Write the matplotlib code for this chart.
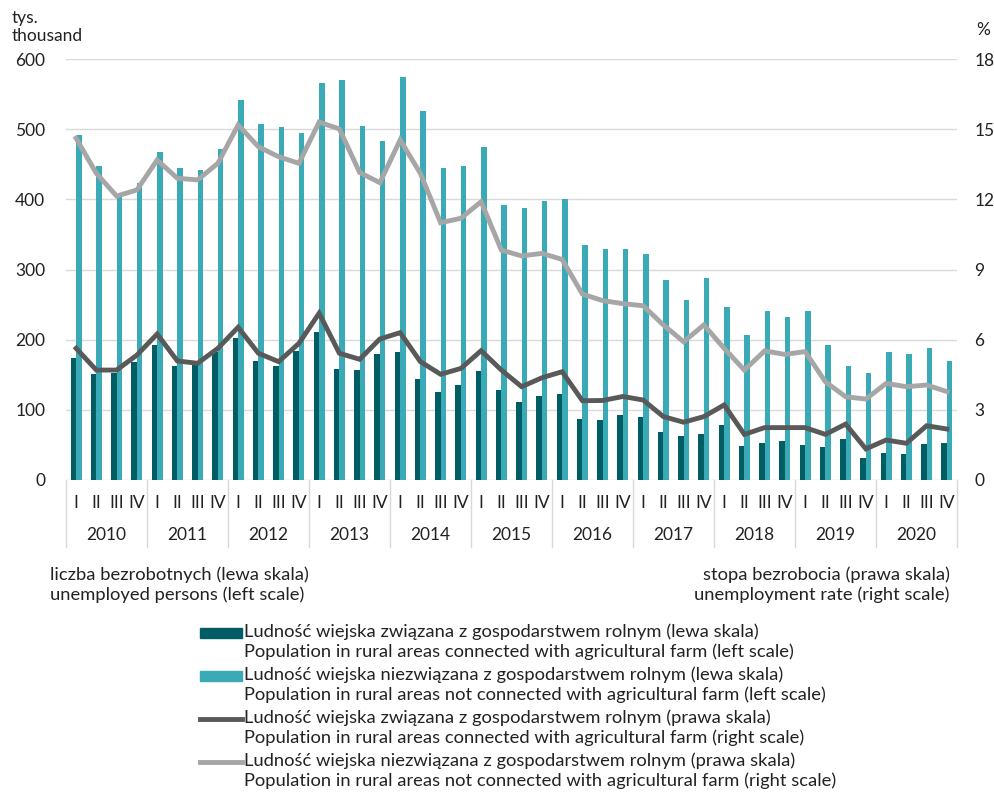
#!/usr/bin/env python3

import numpy as np
import matplotlib
matplotlib.use('Agg')
import matplotlib.pyplot as plt
from matplotlib.patches import Rectangle
from matplotlib.lines import Line2D

# years and quarters on the category axis
years = ['2010', '2011', '2012', '2013', '2014', '2015',
         '2016', '2017', '2018', '2019', '2020']
quarters = ['I', 'II', 'III', 'IV']

# unemployed, connected with agricultural farm (thousand, left scale)
farm_persons = [174, 151, 152, 168,
                193, 162, 164, 182,
                203, 170, 162, 184,
                211, 158, 157, 179,
                183, 144, 125, 135,
                155, 128, 111, 120,
                122, 87, 86, 92,
                90, 68, 63, 66,
                78, 49, 53, 55,
                50, 47, 58, 31,
                39, 37, 52, 53]

# unemployed, not connected with agricultural farm (thousand, left scale)
nonfarm_persons = [492, 447, 408, 423,
                   467, 445, 442, 472,
                   541, 508, 503, 494,
                   566, 570, 505, 483,
                   574, 526, 444, 447,
                   475, 392, 387, 397,
                   400, 335, 329, 329,
                   322, 285, 257, 288,
                   247, 207, 241, 232,
                   241, 192, 163, 152,
                   182, 180, 188, 170]

# unemployment rate, connected with agricultural farm (%, right scale)
farm_rate = [5.63, 4.70, 4.70, 5.34,
             6.24, 5.09, 4.99, 5.63,
             6.53, 5.42, 5.06, 5.84,
             7.13, 5.42, 5.16, 6.03,
             6.30, 5.06, 4.52, 4.77,
             5.53, 4.70, 3.99, 4.37,
             4.63, 3.39, 3.40, 3.57,
             3.42, 2.71, 2.47, 2.71,
             3.21, 1.95, 2.24, 2.24,
             2.24, 1.95, 2.39, 1.33,
             1.71, 1.57, 2.32, 2.18]

# unemployment rate, not connected with agricultural farm (%, right scale)
nonfarm_rate = [14.61, 13.11, 12.14, 12.40,
                13.68, 12.90, 12.83, 13.54,
                15.18, 14.25, 13.82, 13.54,
                15.30, 15.01, 13.15, 12.71,
                14.54, 13.11, 11.00, 11.19,
                11.90, 9.83, 9.58, 9.69,
                9.43, 7.95, 7.67, 7.54,
                7.45, 6.63, 5.91, 6.63,
                5.63, 4.70, 5.52, 5.37,
                5.49, 4.20, 3.56, 3.46,
                4.13, 3.99, 4.06, 3.78]

labels = [
	'Ludność wiejska związana z gospodarstwem rolnym (lewa skala)\n'
	'Population in rural areas connected with agricultural farm (left scale)',
	'Ludność wiejska niezwiązana z gospodarstwem rolnym (lewa skala)\n'
	'Population in rural areas not connected with agricultural farm (left scale)',
	'Ludność wiejska związana z gospodarstwem rolnym (prawa skala)\n'
	'Population in rural areas connected with agricultural farm (right scale)',
	'Ludność wiejska niezwiązana z gospodarstwem rolnym (prawa skala)\n'
	'Population in rural areas not connected with agricultural farm (right scale)',
]

dark_teal = '#005d64'
light_teal = '#3aabb6'
dark_grey = '#595959'
light_grey = '#a6a6a6'
txt = '#222222'
fs = 13.2

plt.rcParams['font.family'] = ['Lato', 'DejaVu Sans']
plt.rcParams['font.size'] = fs

W, H = 995, 793
fig = plt.figure(figsize=(W / 100, H / 100), dpi=100)
ax = fig.add_axes([66 / W, 1 - 480 / H, 891 / W, 421 / H])
ax2 = ax.twinx()

x = np.arange(len(farm_persons))
w = 0.27
ax.bar(x - w, farm_persons, width=w, align='edge', color=dark_teal, zorder=2)
ax.bar(x, nonfarm_persons, width=w, align='edge', color=light_teal, zorder=2)

ax2.plot(x, farm_rate, color=dark_grey, lw=3.5, solid_joinstyle='miter', zorder=3)
ax2.plot(x, nonfarm_rate, color=light_grey, lw=3.5, solid_joinstyle='miter', zorder=3)

ax.set_xlim(-0.5, len(x) - 0.5)
ax.set_ylim(0, 600)
ax2.set_ylim(0, 18)
ax.set_yticks(np.arange(0, 601, 100))
ax2.set_yticks(np.arange(0, 19, 3))
ax.yaxis.grid(True, color='#d9d9d9', lw=1)
ax.set_axisbelow(True)

for a in (ax, ax2):
	for s in a.spines.values():
		s.set_visible(False)
	a.tick_params(axis='y', length=0, labelsize=12.5, colors=txt)
ax.tick_params(axis='y', pad=15)
ax2.tick_params(axis='y', pad=12.5)

# quarter labels on the ticks, years below them
ax.set_xticks(x)
ax.set_xticklabels(quarters * len(years), fontsize=12.5, color=txt)
ax.tick_params(axis='x', length=0, pad=11)
xt = ax.get_xaxis_transform()
for i, yr in enumerate(years):
	ax.text(i * 4 + 1.5, -0.13, yr, transform=xt, ha='center', va='center',
			fontsize=12.5, color=txt)
for i in range(len(years) + 1):
	ax.plot([i * 4 - 0.5, i * 4 - 0.5], [0, -0.16], transform=xt,
			color='#d9d9d9', lw=1, clip_on=False)

# axis captions
fig.text(12 / W, 1 - 44 / H, 'tys.\nthousand', fontsize=12.5, color=txt,
		 va='bottom', linespacing=1.15)
fig.text(990 / W, 1 - 38 / H, '%', fontsize=12.5, color=txt, ha='right', va='bottom')
fig.text(50 / W, 1 - 566 / H, 'liczba bezrobotnych (lewa skala)\nunemployed persons (left scale)',
		 fontsize=fs, color=txt, va='top', linespacing=1.32)
fig.text(950 / W, 1 - 566 / H, 'stopa bezrobocia (prawa skala)\nunemployment rate (right scale)',
		 fontsize=fs, color=txt, va='top', ha='right', linespacing=1.32)

# legend, swatch next to the first line of each label
kinds = [('patch', dark_teal), ('patch', light_teal),
		 ('line', dark_grey), ('line', light_grey)]
for i, ((kind, col), lab) in enumerate(zip(kinds, labels)):
	yc = 633 + i * 43
	if kind == 'patch':
		fig.add_artist(Rectangle((200 / W, 1 - (yc + 5) / H), 42 / W, 10 / H,
								 transform=fig.transFigure, color=col))
	else:
		fig.add_artist(Line2D([200 / W, 242 / W], [1 - yc / H, 1 - yc / H],
							  transform=fig.transFigure, color=col, lw=3.5))
	fig.text(244 / W, 1 - (yc - 10) / H, lab, fontsize=fs, color=txt,
			 va='top', linespacing=1.32)

fig.savefig('out.png', dpi=100)
